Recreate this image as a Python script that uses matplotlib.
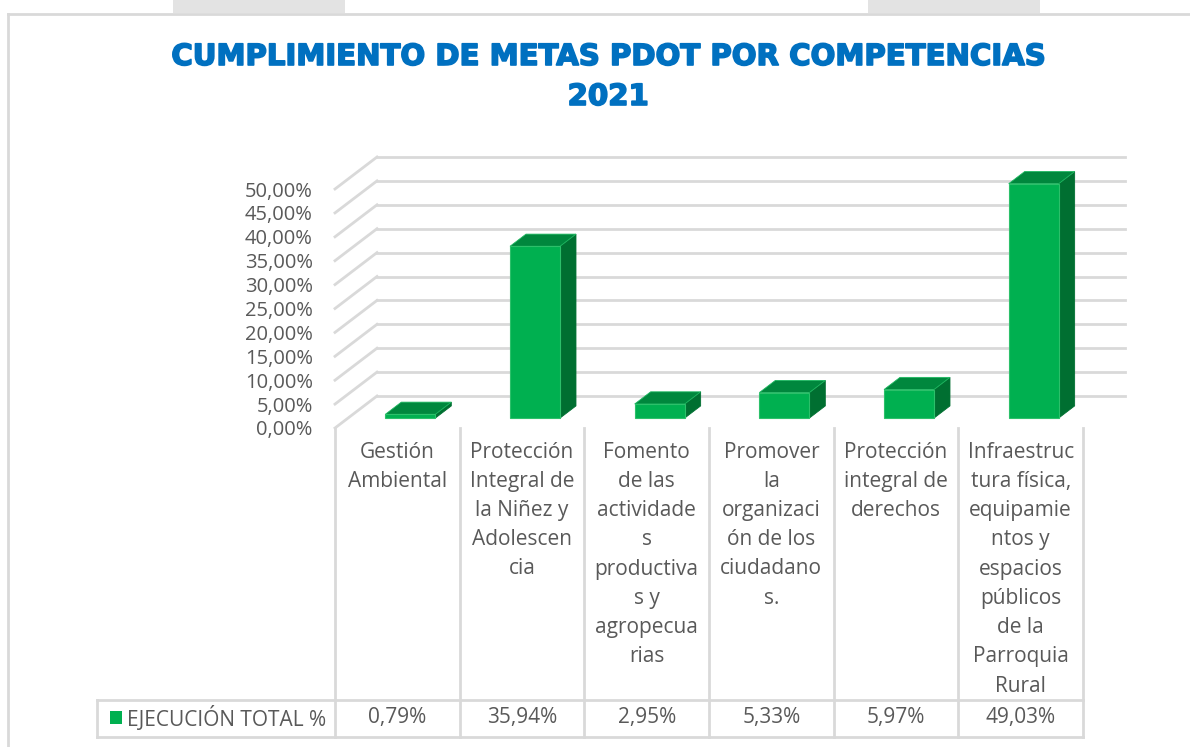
import matplotlib
matplotlib.use('Agg')
import numpy as np
import matplotlib.pyplot as plt
import matplotlib.transforms as mtransforms
import matplotlib.patheffects as pe
from matplotlib.patches import Rectangle, Polygon

# data
categorias = [
    ["Gestión", "Ambiental"],
    ["Protección", "Integral de", "la Niñez y", "Adolescen", "cia"],
    ["Fomento", "de las", "actividade", "s", "productiva", "s y", "agropecua", "rias"],
    ["Promover", "la", "organizaci", "ón de los", "ciudadano", "s."],
    ["Protección", "integral de", "derechos"],
    ["Infraestruc", "tura física,", "equipamie", "ntos y", "espacios", "públicos", "de la", "Parroquia", "Rural"],
]
ejecucion = [0.79, 35.94, 2.95, 5.33, 5.97, 49.03]
serie = "EJECUCIÓN TOTAL %"
titulo = "CUMPLIMIENTO DE METAS PDOT POR COMPETENCIAS\n2021"
yticks = np.arange(0, 51, 5)

W, H = 1190, 747
dpi = 100
fs = 15
gray_txt = '#595959'
grid_c = '#D9D9D9'
green_front = '#00B050'
green_top = '#00873D'
green_side = '#006F31'

fig = plt.figure(figsize=(W / dpi, H / dpi), dpi=dpi)
# pixel coords from top-left
tpx = mtransforms.Affine2D().scale(1, -1).translate(0, H)

# front plane of the chart
x0, x1 = 335, 1083
yb, yt = 428, 189
ax = fig.add_axes([x0 / W, 1 - yb / H, (x1 - x0) / W, (yb - yt) / H])
n = len(ejecucion)
ax.set_xlim(0, n)
ax.set_ylim(0, 50)
for s in ax.spines.values():
    s.set_visible(False)
ax.set_xticks([])
ax.set_yticks(yticks)
ax.set_yticklabels([('%.2f%%' % v).replace('.', ',') for v in yticks],
                   fontsize=14.5, color=gray_txt, family='Open Sans')
ax.tick_params(axis='y', length=0, pad=16)

# depth in data units (42 px right, 32 px up)
cw = (x1 - x0) / n
DX = 42 / cw
DY = 32 / ((yb - yt) / 50.0)

# back wall + side wall gridlines
for v in yticks:
    ax.plot([DX, n + DX], [v + DY, v + DY], color=grid_c, lw=2, clip_on=False, zorder=1)
    ax.plot([0, DX], [v, v + DY], color=grid_c, lw=2, clip_on=False, zorder=1)

# 3d bars
bw = 50 / cw
d0 = 0.31
bd = 0.38
for i, v in enumerate(ejecucion):
    bx = i + 0.5 - bw / 2 + d0 * DX
    by = d0 * DY
    ddx, ddy = bd * DX, bd * DY
    side = Polygon([(bx + bw, by), (bx + bw + ddx, by + ddy), (bx + bw + ddx, by + v + ddy), (bx + bw, by + v)],
                   closed=True, fc=green_side, ec=green_side, lw=0.6, clip_on=False, zorder=3)
    top = Polygon([(bx, by + v), (bx + bw, by + v), (bx + bw + ddx, by + v + ddy), (bx + ddx, by + v + ddy)],
                  closed=True, fc=green_top, ec='#1DB860', lw=0.6, clip_on=False, zorder=3)
    front = Rectangle((bx, by), bw, v, fc=green_front, ec='#2CC06A', lw=0.8, clip_on=False, zorder=4)
    ax.add_patch(side)
    ax.add_patch(top)
    ax.add_patch(front)

# data table under the chart
tcol = mtransforms.blended_transform_factory(ax.transData, tpx)
row_top, row_bot = 700, 737
tab_left = 97
for i in range(n + 1):
    ax.plot([i, i], [428, row_bot], color=grid_c, lw=2, transform=tcol, clip_on=False)
xr = ax.transData.transform((n, 0))[0]
for yy in [row_top, row_bot]:
    fig.add_artist(plt.Line2D([tab_left, xr], [yy, yy], color=grid_c, lw=2, transform=tpx))
fig.add_artist(plt.Line2D([tab_left, tab_left], [row_top, row_bot], color=grid_c, lw=2, transform=tpx))

line_y0, line_dy = 452, 29.25
for i, lines in enumerate(categorias):
    for k, t in enumerate(lines):
        ax.text(i + 0.5, line_y0 + k * line_dy, t, transform=tcol, ha='center', va='center',
                fontsize=fs, color=gray_txt, family='Open Sans')
    ax.text(i + 0.5, 718, ('%.2f%%' % ejecucion[i]).replace('.', ','), transform=tcol,
            ha='center', va='center', fontsize=fs, color=gray_txt, family='Open Sans')

# legend key
fig.add_artist(Rectangle((110, 724), 12, -13, fc=green_front, ec='none', transform=tpx))
fig.text(127, 718, serie, transform=tpx, ha='left', va='center', fontsize=fs,
         color=gray_txt, family='Open Sans')

# title
t1, t2 = titulo.split('\n')
for t, yy in [(t1, 57), (t2, 97)]:
    fig.text(608, yy, t, transform=tpx, ha='center', va='center', fontsize=21,
             fontweight='bold', color='#0070C0', family='DejaVu Sans',
             path_effects=[pe.withStroke(linewidth=1.2, foreground='#0070C0')])

# outer frame and tabs
fig.add_artist(plt.Line2D([8, W], [14, 14], color='#D9D9D9', lw=2, transform=tpx))
fig.add_artist(plt.Line2D([8, 8], [14, H], color='#D9D9D9', lw=2, transform=tpx))
fig.add_artist(Rectangle((173, 0), 172, 13, fc='#E3E3E3', ec='none', transform=tpx))
fig.add_artist(Rectangle((868, 0), 172, 13, fc='#E3E3E3', ec='none', transform=tpx))

plt.savefig('out.png', dpi=dpi)
